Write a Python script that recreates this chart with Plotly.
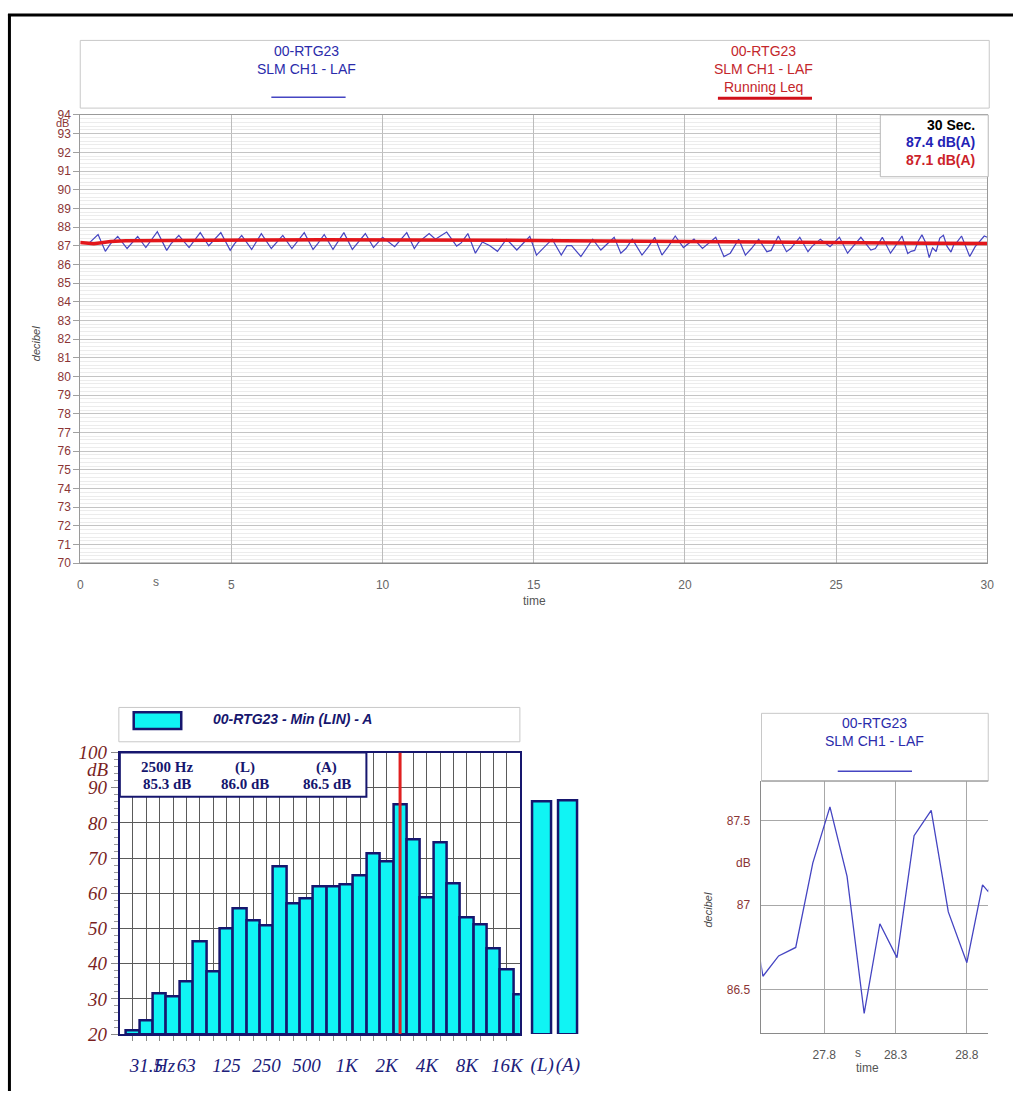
import plotly.graph_objects as go

W, H = 1020, 1102
def fx(x): return x / W
def fy(y): return 1 - y / H

# ---------------- data ----------------
# SLM CH1 - LAF (fast A-weighted level), time in s, level in dB
laf_t = [0.3, 0.59, 0.83, 1.0, 1.24, 1.55, 1.9, 2.17, 2.55, 2.86, 3.0, 3.26, 3.6, 3.97, 4.25, 4.65,
         4.96, 5.1, 5.34, 5.67, 5.99, 6.32, 6.7, 7.0, 7.41, 7.7, 7.85, 8.07, 8.36, 8.72, 9.0, 9.43,
         9.7, 10.0, 10.4, 10.8, 11.05, 11.2, 11.54, 11.75, 11.85, 12.12, 12.45, 12.6, 12.82, 13.07,
         13.3, 13.55, 13.8, 14.1, 14.44, 14.87, 15.09, 15.3, 15.61, 15.91, 16.1, 16.25, 16.56, 16.95,
         17.22, 17.66, 17.88, 18.05, 18.26, 18.58, 18.8, 19.0, 19.24, 19.45, 19.68, 19.95, 20.3,
         20.58, 21.02, 21.29, 21.5, 21.78, 22.0, 22.2, 22.44, 22.71, 22.85, 23.09, 23.36, 23.5, 23.8,
         24.07, 24.2, 24.48, 24.8, 25.11, 25.38, 25.5, 25.82, 26.15, 26.3, 26.53, 26.8, 26.95, 27.18,
         27.37, 27.48, 27.60, 27.72, 27.84, 27.96, 28.08, 28.19, 28.31, 28.43, 28.55, 28.67, 28.80,
         28.91, 28.95, 29.15, 29.42, 29.6, 29.9, 30.0]
laf_db = [87.15, 87.60, 86.70, 87.10, 87.50, 86.85, 87.50, 86.90, 87.75, 86.75, 87.10, 87.55, 86.90,
          87.70, 87.00, 87.70, 86.75, 87.10, 87.55, 86.80, 87.65, 86.85, 87.55, 86.85, 87.70, 86.80,
          87.10, 87.60, 86.80, 87.70, 86.80, 87.65, 86.90, 87.45, 86.95, 87.70, 86.85, 87.20, 87.65,
          87.35, 87.45, 87.73, 86.98, 87.15, 87.65, 86.60, 87.20, 87.00, 86.70, 87.35, 86.77, 87.50,
          86.50, 86.85, 87.35, 86.50, 87.00, 87.00, 86.42, 87.35, 86.77, 87.45, 86.60, 86.85, 87.35,
          86.50, 86.95, 87.45, 86.50, 86.95, 87.52, 86.90, 87.35, 86.85, 87.45, 86.42, 86.60, 87.35,
          86.50, 86.85, 87.35, 86.68, 86.75, 87.52, 86.68, 86.85, 87.45, 86.68, 86.95, 87.35, 86.95,
          87.45, 86.60, 86.85, 87.45, 86.77, 86.85, 87.45, 86.60, 86.95, 87.52,
          86.58, 86.70, 86.75, 87.25, 87.58, 87.17, 86.36, 86.89, 86.69, 87.41, 87.56, 86.96, 86.66,
          87.12, 87.08, 87.52, 86.42, 86.95, 87.52, 87.45]

# Running Leq
leq_t = [0, 0.2, 0.45, 0.7, 1.0, 1.5, 2.5, 4, 6, 8, 10, 12, 14, 16, 18, 20, 22, 24, 26, 28, 30]
leq_db = [87.17, 87.12, 87.10, 87.16, 87.22, 87.26, 87.28, 87.30, 87.31, 87.32, 87.32, 87.31,
          87.29, 87.27, 87.24, 87.21, 87.19, 87.17, 87.15, 87.13, 87.12]

summary_period = "30 Sec."
laf_value = 87.4
leq_value = 87.1

# 1/3 octave spectrum (Min, LIN)
bands = ["25", "31.5", "40", "50", "63", "80", "100", "125", "160", "200", "250", "315", "400",
         "500", "630", "800", "1K", "1.25K", "1.6K", "2K", "2.5K", "3.15K", "4K", "5K", "6.3K",
         "8K", "10K", "12.5K", "16K", "20K"]
band_db = [21.0, 23.9, 31.5, 30.6, 34.9, 46.2, 37.9, 49.9, 55.6, 52.2, 50.9, 67.7, 57.2, 58.5,
           61.9, 62.0, 62.4, 65.0, 71.2, 68.9, 85.3, 75.3, 58.7, 74.5, 62.7, 53.1, 51.0, 44.2,
           38.2, 31.3]
band_ticktext = ["", "31.5", "", "", "63", "", "", "125", "", "", "250", "", "", "500", "", "",
                 "1K", "", "", "2K", "", "", "4K", "", "", "8K", "", "", "16K", ""]
freq_unit = "Hz"
freq_unit_pos = 2.35
selected_band = "2.5K"
selected_hz = "2500 Hz"
overall_names = ["(L)", "(A)"]
overall_db = [86.0, 86.5]
spec_floor = 20

top_yticks = list(range(70, 95))
top_xticks = [0, 5, 10, 15, 20, 25, 30]
spec_yticks = [20, 30, 40, 50, 60, 70, 80, 90, 100]
zoom_xticks = [27.8, 28.3, 28.8]
zoom_yticks = [86.5, 87, 87.5]

# ---------------- styles ----------------
BLUE = "#4545c2"
RED = "#e3161b"
NAVY = "#16166e"
DARKRED = "#8b3535"
SANS = "Liberation Sans, Arial, sans-serif"
SERIF = "Liberation Serif, Times New Roman, serif"

fig = go.Figure()

# top chart
fig.add_trace(go.Scatter(x=laf_t, y=laf_db, mode="lines", line=dict(color=BLUE, width=1.2),
                         xaxis="x", yaxis="y", showlegend=False))
fig.add_trace(go.Scatter(x=leq_t, y=leq_db, mode="lines", line=dict(color=RED, width=3.5),
                         xaxis="x", yaxis="y", showlegend=False))

# spectrum
sel_idx = bands.index(selected_band)
fig.add_trace(go.Bar(x=list(range(len(bands))), y=[v - spec_floor for v in band_db], base=spec_floor,
                     width=1.0, marker=dict(color="#10f4f4", line=dict(color=NAVY, width=2.5)),
                     xaxis="x2", yaxis="y2", showlegend=False))
fig.add_trace(go.Scatter(x=[sel_idx, sel_idx], y=[spec_floor, 100], mode="lines",
                         line=dict(color="#e02020", width=3), xaxis="x2", yaxis="y2", showlegend=False))
fig.add_trace(go.Bar(x=[0, 1], y=[v - spec_floor for v in overall_db], base=spec_floor, width=0.73,
                     marker=dict(color="#10f4f4", line=dict(color=NAVY, width=2.5)),
                     xaxis="x3", yaxis="y3", showlegend=False))

# zoomed chart
fig.add_trace(go.Scatter(x=laf_t, y=laf_db, mode="lines", line=dict(color=BLUE, width=1.3),
                         xaxis="x4", yaxis="y4", showlegend=False))

fig.update_layout(
    width=W, height=H, margin=dict(l=0, r=0, t=0, b=0),
    paper_bgcolor="white", plot_bgcolor="white", bargap=0,
    xaxis=dict(domain=[fx(78), fx(994)], range=[0, 30], tickvals=top_xticks,
               showgrid=True, gridcolor="#bcbcbc", zeroline=False, showline=True,
               linecolor="#9a9a9a", mirror=True, ticks="", ticklabelstandoff=10,
               tickfont=dict(family=SANS, size=12, color="#666666"), anchor="y"),
    yaxis=dict(domain=[fy(564), fy(107)], range=[70, 94], tickvals=top_yticks,
               showgrid=True, gridcolor="#c4c4c4", zeroline=False, showline=True,
               linecolor="#9a9a9a", mirror=True, ticks="outside", ticklen=6, tickcolor="#a0a0a0",
               minor=dict(dtick=0.2, tick0=70, showgrid=True, gridcolor="#ececec"),
               tickfont=dict(family=SANS, size=12, color=DARKRED), anchor="x"),
    xaxis2=dict(domain=[fx(118), fx(522)], range=[-0.98, 28.97],
                tickvals=list(range(len(bands))), ticktext=band_ticktext, tickangle=0,
                showgrid=True, gridcolor="#5a5a5a", zeroline=False, showline=True, linecolor=NAVY,
                linewidth=2, mirror=True, ticks="outside", ticklen=5, tickcolor="#8a8a8a",
                ticklabelstandoff=8, layer="below traces",
                tickfont=dict(family=SERIF, size=19, color="#20207a", style="italic"), anchor="y2"),
    yaxis2=dict(domain=[fy(1044), fy(757)], range=[20, 100], tickvals=spec_yticks,
                showgrid=True, gridcolor="#5a5a5a", zeroline=False, showline=True, linecolor=NAVY,
                linewidth=2, mirror=True, ticks="outside", ticklen=7, tickcolor="#8a8a8a",
                layer="below traces",
                minor=dict(dtick=2, tick0=20, ticks="outside", ticklen=4, tickcolor="#9a9a9a", showgrid=False),
                tickfont=dict(family=SERIF, size=19, color="#7a1f1f", style="italic"), anchor="x2"),
    xaxis3=dict(domain=[fx(531.5), fx(583.5)], range=[-0.5, 1.5], tickvals=[0, 1], tickangle=0,
                ticktext=overall_names, showgrid=False, zeroline=False, showline=False, ticks="outside",
                ticklen=5, tickcolor="rgba(0,0,0,0)", ticklabelstandoff=8,
                tickfont=dict(family=SERIF, size=19, color="#20207a", style="italic"), anchor="y3"),
    yaxis3=dict(domain=[fy(1044), fy(757)], range=[20, 100], visible=False, anchor="x3"),
    xaxis4=dict(domain=[fx(766), fx(995)], range=[27.36, 28.95], tickvals=zoom_xticks,
                showgrid=True, gridcolor="#a8a8a8", zeroline=False, showline=True, linecolor="#8a8a8a",
                ticks="", ticklabelstandoff=10,
                tickfont=dict(family=SANS, size=12, color="#555555"), anchor="y4"),
    yaxis4=dict(domain=[fy(1043), fy(786)], range=[86.244, 87.733], tickvals=zoom_yticks,
                ticktext=[str(v) for v in zoom_yticks],
                showgrid=True, gridcolor="#a8a8a8", zeroline=False, showline=True, linecolor="#8a8a8a",
                ticks="", ticklabelstandoff=8,
                tickfont=dict(family=SANS, size=12, color=DARKRED), anchor="x4"),
)

shapes = []
def rect(x0, y0, x1, y1, line="#c8c8c8", width=1, fill="white", layer="above"):
    shapes.append(dict(type="rect", xref="paper", yref="paper", x0=fx(x0), x1=fx(x1),
                       y0=fy(y0), y1=fy(y1), line=dict(color=line, width=width),
                       fillcolor=fill, layer=layer))
def hline(x0, x1, y, color, width):
    shapes.append(dict(type="line", xref="paper", yref="paper", x0=fx(x0), x1=fx(x1),
                       y0=fy(y), y1=fy(y), line=dict(color=color, width=width)))
def vline(x, y0, y1, color, width):
    shapes.append(dict(type="line", xref="paper", yref="paper", x0=fx(x), x1=fx(x),
                       y0=fy(y0), y1=fy(y1), line=dict(color=color, width=width)))

# page frame
vline(6.5, 4, 1102, "black", 3)
hline(5, 1020, 5, "black", 3)

# top chart darker baseline
hline(78, 994, 564, "#8a8a8a", 1.5)
# top legend
rect(78, 31, 996, 100)
hline(271, 346, 89, BLUE, 1.5)
hline(722, 817, 90, "#d0101a", 3)
# summary box
rect(886, 107, 995, 170, line="#b8b8b8")
# spectrum legend
rect(117, 711, 522, 746)
rect(132, 716, 180, 733, line=NAVY, width=2.5, fill="#10f4f4")
# spectrum info box
rect(118, 757, 367, 802, line=NAVY, width=2, fill="white")
# zoom legend
rect(766, 717, 995, 786)
hline(766, 995, 786, "#8a8a8a", 1)
hline(843, 918, 776, BLUE, 1.5)

fig.update_layout(shapes=shapes)

ann = []
def txt(x, y, s, size=14, color="black", family=SANS, xanchor="center", yref="paper",
        xref="paper", angle=0, **kw):
    ann.append(dict(x=fx(x) if xref == "paper" else x, y=fy(y) if yref == "paper" else y,
                    xref=xref, yref=yref, text=s, showarrow=False, xanchor=xanchor, yanchor="middle",
                    textangle=angle, font=dict(size=size, color=color, family=family, **kw)))

LBLUE = "#2b2bab"
LRED = "#c4262b"
txt(307, 42, "00-RTG23", 14, LBLUE)
txt(307, 60, "SLM CH1 - LAF", 14, LBLUE)
txt(768, 42, "00-RTG23", 14, LRED)
txt(768, 60, "SLM CH1 - LAF", 14, LRED)
txt(768, 79, "Running Leq", 14, LRED)

txt(984, 117, "<b>%s</b>" % summary_period, 14, "black", xanchor="right")
txt(984, 135, "<b>%.1f dB(A)</b>" % laf_value, 14, "#2222b5", xanchor="right")
txt(984, 153, "<b>%.1f dB(A)</b>" % leq_value, 14, "#cc1f2a", xanchor="right")

# top chart axis extras
txt(69, 93.55, "dB", 11, DARKRED, xanchor="right", yref="y")
txt(2.5, 583, "s", 12, "#666666", xref="x")
txt(537, 602, "time", 12, "#555555")
txt(33, 340, "decibel", 11, "#444444", angle=-90, style="italic")

# spectrum texts
txt(210, 723, "<b><i>00-RTG23 - Min (LIN) - A</i></b>", 14, NAVY, xanchor="left")
txt(166, 772, "<b>%s</b>" % selected_hz, 15, NAVY, family=SERIF)
txt(244, 772, "<b>%s</b>" % overall_names[0], 15, NAVY, family=SERIF)
txt(327, 772, "<b>%s</b>" % overall_names[1], 15, NAVY, family=SERIF)
txt(166, 789, "<b>%.1f dB</b>" % band_db[sel_idx], 15, NAVY, family=SERIF)
txt(244, 789, "<b>%.1f dB</b>" % overall_db[0], 15, NAVY, family=SERIF)
txt(327, 789, "<b>%.1f dB</b>" % overall_db[1], 15, NAVY, family=SERIF)
txt(109, 95.3, "dB", 19, "#7a1f1f", family=SERIF, xanchor="right", yref="y2", style="italic")
txt(freq_unit_pos, 1076, freq_unit, 19, "#20207a", family=SERIF, xref="x2", style="italic")

# zoom chart texts
txt(880, 727, "00-RTG23", 14, LBLUE)
txt(880, 745, "SLM CH1 - LAF", 14, LBLUE)
txt(757, 87.25, "dB", 12, DARKRED, xanchor="right", yref="y4")
txt(28.04, 1063, "s", 12, "#555555", xref="x4")
txt(873, 1079, "time", 12, "#555555")
txt(711, 918, "decibel", 11, "#444444", angle=-90, style="italic")

fig.update_layout(annotations=ann)

fig.write_html("out.html")
